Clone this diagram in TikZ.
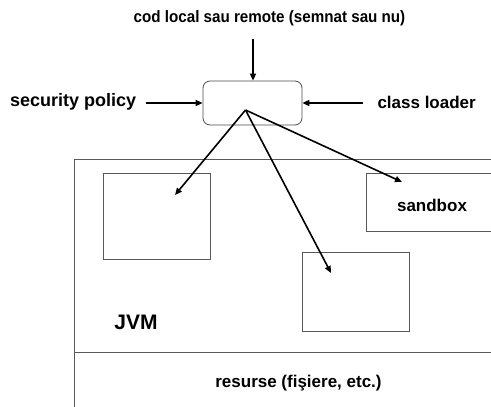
\documentclass[tikz,border=0pt]{standalone}
\usepackage{fontspec}
\setmainfont{Liberation Sans}
\usetikzlibrary{arrows.meta}
\begin{document}
\begin{tikzpicture}[x=1pt,y=-1pt,
  lbl/.style={font=\bfseries\fontsize{17}{20}\selectfont, inner sep=0pt},
  box/.style={draw=black!65, line width=0.9pt, inner sep=0pt},
  arr/.style={draw=black, line width=1.6pt, -{Triangle[length=7pt,width=6pt]}}]
\useasboundingbox (0,0) rectangle (491,407);
\clip (0,0) rectangle (491,407);
\fill[white] (0,0) rectangle (491,407);
% text labels
\node[font=\bfseries\fontsize{16.5}{18}\selectfont, inner sep=0pt, xscale=0.92] (cod) at (269.5,18) {cod local sau remote (semnat sau nu)};
\node[font=\bfseries\fontsize{18}{20}\selectfont, inner sep=0pt, anchor=west] (sec) at (10,102) {security policy};
\node[lbl, anchor=east] (cls) at (476,102) {class loader};
% central rounded box
\node[draw=black!70, line width=0.8pt, rounded corners=7pt, minimum width=99pt, minimum height=44pt] (cb) at (252.5,103) {};
\coordinate (o) at (245.5,110);
% JVM frame
\coordinate (jtl) at (74,159);
\coordinate (jtr) at (495,159);
\coordinate (jbl) at (74,410);
\coordinate (dl) at (74,352);
\coordinate (dr) at (495,352);
\draw[black!65, line width=0.9pt] (jtr) -- (jtl) -- (jbl);
\draw[black!65, line width=0.9pt] (dl) -- (dr);
% inner boxes
\node[box, minimum width=107pt, minimum height=86pt] (b1) at (157,216.3) {};
\node[box, minimum width=107pt, minimum height=79.5pt] (b2) at (355.8,292) {};
\node[box, minimum width=132pt, minimum height=58pt] (sb) at (432,202) {};
\node[lbl] (sbt) at (432,205) {sandbox};
\node[font=\bfseries\fontsize{21}{24}\selectfont, inner sep=0pt] (jvm) at (136,322) {JVM};
\node[lbl] (res) at (298.5,383) {resurse (fişiere, etc.)};
% arrows
\coordinate (t1) at (175,195);
\coordinate (t2) at (331,273);
\coordinate (t3) at (402,182);
\draw[arr] (o) -- (t1);
\draw[arr] (o) -- (t2);
\draw[arr] (o) -- (t3);
\coordinate (s1) at (146,103);
\coordinate (c1) at (363,103);
\coordinate (a1) at (253,39);
\draw[arr] (s1) -- (cb.west);
\draw[arr] (c1) -- (cb.east);
\draw[arr] (a1) -- (cb.north -| a1);
\end{tikzpicture}
\end{document}
